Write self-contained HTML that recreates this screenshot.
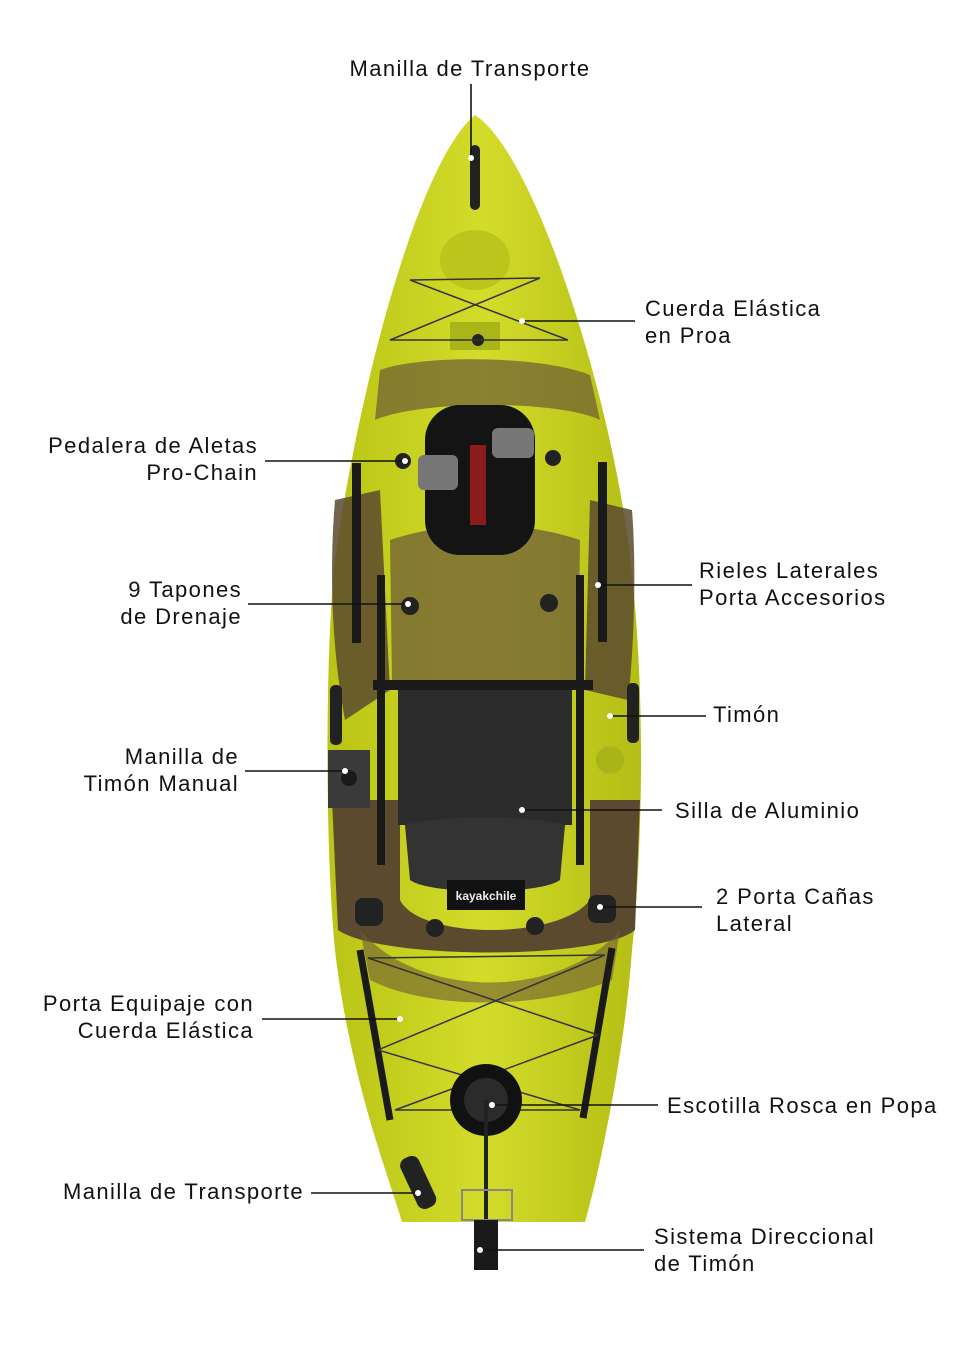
<!DOCTYPE html>
<html><head><meta charset="utf-8"><style>
html,body{margin:0;padding:0;background:#fff;}
svg{display:block}
text{font-family:"Liberation Sans",sans-serif;font-size:22px;fill:#111;letter-spacing:1.4px;}
</style></head><body>
<svg width="980" height="1359" viewBox="0 0 980 1359">
<defs>
<linearGradient id="hull" x1="0" x2="1">
<stop offset="0" stop-color="#b9c416"/><stop offset="0.5" stop-color="#d3dc2a"/><stop offset="1" stop-color="#b3bd14"/>
</linearGradient>
</defs>
<path d="M475,115 C420,160 360,380 335,560 C325,650 325,850 335,950 C350,1080 390,1180 402,1222 L585,1222 C600,1170 625,1050 632,950 C645,820 645,650 625,520 C600,360 530,150 475,115 Z" fill="url(#hull)"/>
<path d="M380,370 C420,355 540,355 590,375 L600,420 C560,400 420,400 375,420 Z" fill="#6b5a34" opacity="0.7"/>
<path d="M335,500 L380,490 L390,690 L345,720 C330,640 330,560 335,500 Z" fill="#5a4a2e" opacity="0.85"/>
<path d="M632,510 L590,500 L585,690 L628,700 C635,640 636,560 632,510 Z" fill="#5a4a2e" opacity="0.85"/>
<path d="M390,540 C450,520 520,520 580,540 L578,680 L392,680 Z" fill="#6e5c36" opacity="0.75"/>
<path d="M332,800 L400,800 L400,900 C420,940 560,940 590,900 L590,800 L640,800 L635,930 C600,960 380,960 338,930 Z" fill="#5c4a2f"/>
<path d="M360,930 C420,1000 560,1000 620,930 L612,980 C540,1010 430,1010 370,980 Z" fill="#6e5c36" opacity="0.6"/>
<ellipse cx="475" cy="260" rx="35" ry="30" fill="#bcc51c"/>
<rect x="470" y="145" width="10" height="65" rx="5" fill="#222"/>
<rect x="450" y="322" width="50" height="28" fill="#aab51a"/>
<circle cx="478" cy="340" r="6" fill="#222"/>
<g stroke="#333" stroke-width="1.5" fill="none">
<line x1="410" y1="280" x2="540" y2="278"/><line x1="390" y1="340" x2="568" y2="340"/>
<line x1="410" y1="280" x2="568" y2="340"/><line x1="540" y1="278" x2="390" y2="340"/>
</g>
<rect x="425" y="405" width="110" height="150" rx="35" fill="#141414"/>
<rect x="418" y="455" width="40" height="35" rx="6" fill="#777"/>
<rect x="492" y="428" width="42" height="30" rx="6" fill="#777"/>
<rect x="470" y="445" width="16" height="80" fill="#8a1c1c"/>
<circle cx="403" cy="461" r="8" fill="#222"/><circle cx="553" cy="458" r="8" fill="#222"/>
<rect x="352" y="463" width="9" height="180" fill="#1a1a1a"/>
<rect x="598" y="462" width="9" height="180" fill="#1a1a1a"/>
<rect x="377" y="575" width="8" height="290" fill="#1a1a1a"/>
<rect x="576" y="575" width="8" height="290" fill="#1a1a1a"/>
<circle cx="410" cy="606" r="9" fill="#222"/><circle cx="549" cy="603" r="9" fill="#222"/>
<rect x="330" y="685" width="12" height="60" rx="5" fill="#222"/>
<rect x="627" y="683" width="12" height="60" rx="5" fill="#222"/>
<rect x="328" y="750" width="42" height="58" fill="#3a3a3a"/>
<circle cx="349" cy="778" r="8" fill="#1a1a1a"/>
<circle cx="610" cy="760" r="14" fill="#a9b418"/>
<rect x="373" y="680" width="220" height="10" fill="#1a1a1a"/>
<path d="M398,690 L572,690 L572,825 L398,825 Z" fill="#2b2b2b"/>
<path d="M405,825 C440,815 530,815 565,825 L560,880 C540,895 430,895 410,880 Z" fill="#333"/>
<rect x="447" y="880" width="78" height="30" fill="#111"/>
<text x="486" y="900" text-anchor="middle" style="font-size:12px;fill:#eee;font-weight:bold;letter-spacing:0">kayakchile</text>
<rect x="355" y="898" width="28" height="28" rx="8" fill="#222"/>
<rect x="588" y="895" width="28" height="28" rx="8" fill="#222"/>
<circle cx="435" cy="928" r="9" fill="#222"/><circle cx="535" cy="926" r="9" fill="#222"/>
<line x1="360" y1="950" x2="390" y2="1120" stroke="#1a1a1a" stroke-width="7"/>
<line x1="612" y1="948" x2="583" y2="1118" stroke="#1a1a1a" stroke-width="7"/>
<g stroke="#333" stroke-width="1.5" fill="none">
<line x1="368" y1="958" x2="605" y2="955"/><line x1="368" y1="958" x2="598" y2="1035"/>
<line x1="605" y1="955" x2="378" y2="1050"/><line x1="378" y1="1050" x2="580" y2="1110"/>
<line x1="598" y1="1035" x2="395" y2="1110"/><line x1="395" y1="1110" x2="580" y2="1110"/>
</g>
<circle cx="486" cy="1100" r="36" fill="#111"/><circle cx="486" cy="1100" r="22" fill="#2b2b2b"/>
<line x1="486" y1="1100" x2="486" y2="1250" stroke="#222" stroke-width="4"/>
<rect x="408" y="1155" width="20" height="55" rx="8" transform="rotate(-25 418 1182)" fill="#222"/>
<rect x="462" y="1190" width="50" height="30" fill="none" stroke="#888" stroke-width="2"/>
<rect x="474" y="1220" width="24" height="50" fill="#1a1a1a"/>
<g stroke="#111" stroke-width="1.6">
<line x1="471" y1="84" x2="471" y2="158"/>
<line x1="522" y1="321" x2="635" y2="321"/>
<line x1="265" y1="461" x2="405" y2="461"/>
<line x1="248" y1="604" x2="408" y2="604"/>
<line x1="598" y1="585" x2="692" y2="585"/>
<line x1="610" y1="716" x2="706" y2="716"/>
<line x1="245" y1="771" x2="345" y2="771"/>
<line x1="522" y1="810" x2="662" y2="810"/>
<line x1="600" y1="907" x2="702" y2="907"/>
<line x1="262" y1="1019" x2="400" y2="1019"/>
<line x1="492" y1="1105" x2="658" y2="1105"/>
<line x1="311" y1="1193" x2="418" y2="1193"/>
<line x1="480" y1="1250" x2="644" y2="1250"/>
</g>
<g fill="#fff">
<circle cx="471" cy="158" r="3"/><circle cx="522" cy="321" r="3"/><circle cx="405" cy="461" r="3"/>
<circle cx="408" cy="604" r="3"/><circle cx="598" cy="585" r="3"/><circle cx="610" cy="716" r="3"/>
<circle cx="345" cy="771" r="3"/><circle cx="522" cy="810" r="3"/><circle cx="600" cy="907" r="3"/>
<circle cx="400" cy="1019" r="3"/><circle cx="492" cy="1105" r="3"/><circle cx="418" cy="1193" r="3"/>
<circle cx="480" cy="1250" r="3"/>
</g>
<text x="470" y="76" text-anchor="middle">Manilla de Transporte</text>
<text x="645" y="316">Cuerda Elástica</text><text x="645" y="343">en Proa</text>
<text x="258" y="453" text-anchor="end">Pedalera de Aletas</text><text x="258" y="480" text-anchor="end">Pro-Chain</text>
<text x="242" y="597" text-anchor="end">9 Tapones</text><text x="242" y="624" text-anchor="end">de Drenaje</text>
<text x="699" y="578">Rieles Laterales</text><text x="699" y="605">Porta Accesorios</text>
<text x="713" y="722">Timón</text>
<text x="239" y="764" text-anchor="end">Manilla de</text><text x="239" y="791" text-anchor="end">Timón Manual</text>
<text x="675" y="818">Silla de Aluminio</text>
<text x="716" y="904">2 Porta Cañas</text><text x="716" y="931">Lateral</text>
<text x="254" y="1011" text-anchor="end">Porta Equipaje con</text><text x="254" y="1038" text-anchor="end">Cuerda Elástica</text>
<text x="667" y="1113">Escotilla Rosca en Popa</text>
<text x="304" y="1199" text-anchor="end">Manilla de Transporte</text>
<text x="654" y="1244">Sistema Direccional</text><text x="654" y="1271">de Timón</text>
</svg>
</body></html>
